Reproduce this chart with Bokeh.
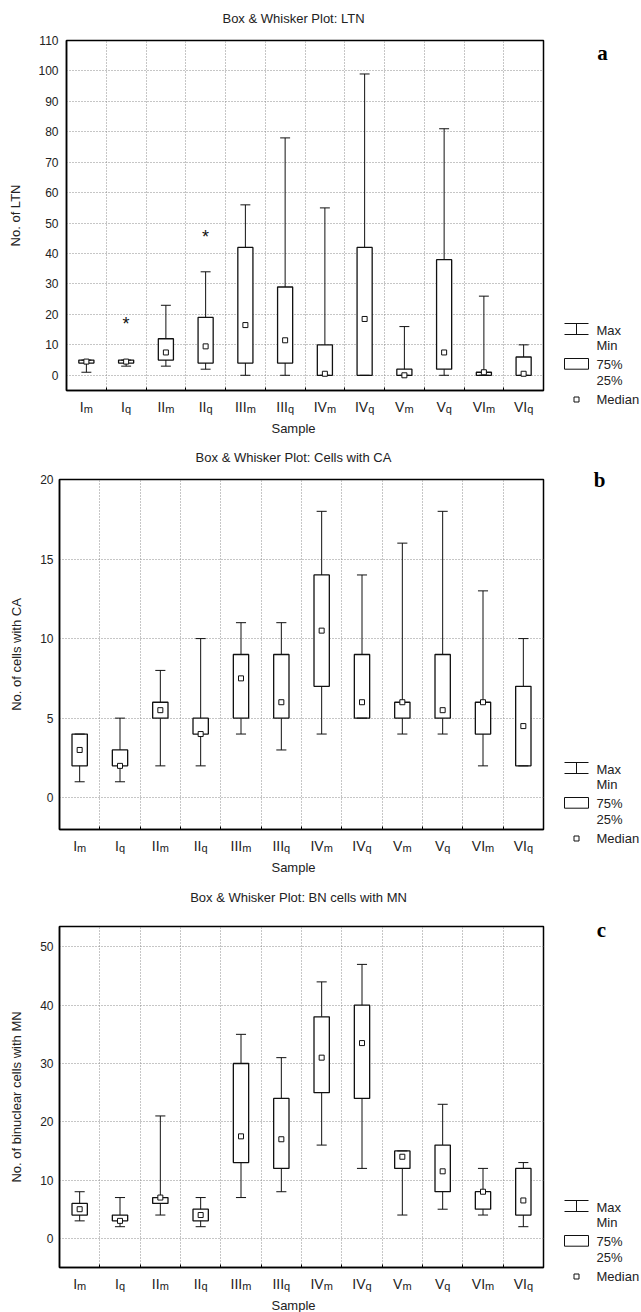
import numpy as np
from bokeh.plotting import figure
from bokeh.models import FixedTicker, Range1d, ColumnDataSource
from bokeh.layouts import column, row
from bokeh.embed import file_html
from bokeh.resources import INLINE
from bokeh.core.properties import value

# ---------------- data ----------------
numerals = ["I", "I", "II", "II", "III", "III", "IV", "IV", "V", "V", "VI", "VI"]
subs = ["m", "q", "m", "q", "m", "q", "m", "q", "m", "q", "m", "q"]

# (a) LTN
ltn_min = [1, 3, 3, 2, 0, 0, 0, 0, 0, 0, 0, 0]
ltn_q1 = [4, 4, 5, 4, 4, 4, 0, 0, 0, 2, 0, 0]
ltn_med = [4.5, 4.5, 7.5, 9.5, 16.5, 11.5, 0.5, 18.5, 0, 7.5, 1, 0.5]
ltn_q3 = [5, 5, 12, 19, 42, 29, 10, 42, 2, 38, 1, 6]
ltn_max = [5, 5, 23, 34, 56, 78, 55, 99, 16, 81, 26, 10]
ltn_out_idx = [1, 3]
ltn_out_val = [17, 45.5]

# (b) Cells with CA
ca_min = [1, 1, 2, 2, 4, 3, 4, 5, 4, 4, 2, 2]
ca_q1 = [2, 2, 5, 4, 5, 5, 7, 5, 5, 5, 4, 2]
ca_med = [3, 2, 5.5, 4, 7.5, 6, 10.5, 6, 6, 5.5, 6, 4.5]
ca_q3 = [4, 3, 6, 5, 9, 9, 14, 9, 6, 9, 6, 7]
ca_max = [4, 5, 8, 10, 11, 11, 18, 14, 16, 18, 13, 10]

# (c) BN cells with MN
mn_min = [3, 2, 4, 2, 7, 8, 16, 12, 4, 5, 4, 2]
mn_q1 = [4, 3, 6, 3, 13, 12, 25, 24, 12, 8, 5, 4]
mn_med = [5, 3, 7, 4, 17.5, 17, 31, 33.5, 14, 11.5, 8, 6.5]
mn_q3 = [6, 4, 7, 5, 30, 24, 38, 40, 15, 16, 8, 12]
mn_max = [8, 7, 21, 7, 35, 31, 44, 47, 15, 23, 12, 13]

ticks_a = [0, 10, 20, 30, 40, 50, 60, 70, 80, 90, 100, 110]
ticks_b = [0, 5, 10, 15, 20]
ticks_c = [0, 10, 20, 30, 40, 50]

legend_labels = ["Max", "Min", "75%", "25%", "Median"]

FONT = "Liberation Sans"
SERIF = "Liberation Serif"
TXT = "#222222"
INK = "#111111"
PAGE_W = 641
MAIN_W = 545
B_RIGHT = 2
B_TOP = 12
B_BOT = 6
CHAR_W = {"I": 0.278, "V": 0.667, "m": 0.833, "q": 0.556}


def canvas(width, height, x0, x1, ytop, ybot, x_range=None):
    """A figure without axes whose frame is the whole canvas (page-like coordinates)."""
    f = figure(width=width, height=height,
               x_range=x_range if x_range is not None else Range1d(x0, x1),
               y_range=Range1d(ybot, ytop), x_axis_type=None, y_axis_type=None,
               output_backend="svg", toolbar_location=None, min_border=0)
    f.outline_line_color = None
    f.background_fill_color = "white"
    f.border_fill_color = "white"
    return f


def panel(top, title, title_x, title_y, ylabel, letter, letter_xy,
          mins, q1, med, q3, maxs, yr, yticks,
          frame_top, frame_h, b_left, tick_standoff, ylab_standoff, strip_h,
          out_idx=None, out_val=None):
    n = len(numerals)
    title_h = frame_top - B_TOP - top
    main_h = B_TOP + frame_h + B_BOT
    frame_bot = frame_top + frame_h
    row_top = top + title_h

    # ---- title strip (page coordinates) ----
    ts = canvas(PAGE_W, title_h, 0, PAGE_W, top, top + title_h)
    ts.text(x=[title_x], y=[title_y], text=[title], text_align="center",
            text_baseline="middle", text_font=value(FONT), text_font_size="13px",
            text_color=TXT)

    # ---- main plot ----
    xr = Range1d(0, n)
    p = figure(width=MAIN_W, height=main_h, x_range=xr, y_range=Range1d(*yr),
               output_backend="svg", toolbar_location=None,
               min_border_left=b_left, min_border_right=B_RIGHT,
               min_border_top=B_TOP, min_border_bottom=B_BOT)
    p.background_fill_color = "white"
    p.border_fill_color = "white"
    p.outline_line_color = "black"
    p.outline_line_width = 1.5

    p.xgrid.ticker = FixedTicker(ticks=list(range(1, n)))
    p.ygrid.ticker = FixedTicker(ticks=yticks)
    for g in (p.xgrid, p.ygrid):
        g.grid_line_color = "#8c8c8c"
        g.grid_line_dash = "1 2"
        g.grid_line_width = 1

    p.xaxis.ticker = FixedTicker(ticks=list(range(1, n)))
    p.xaxis.major_label_overrides = {i: "" for i in range(1, n)}
    p.xaxis.major_label_text_font_size = "0px"
    p.xaxis.major_label_standoff = 0
    p.xaxis.major_tick_in = 3
    p.xaxis.major_tick_out = 0
    p.xaxis.major_tick_line_color = "black"
    p.xaxis.minor_tick_line_color = None
    p.xaxis.axis_line_color = "black"
    p.xaxis.axis_line_width = 1.5

    p.yaxis.ticker = FixedTicker(ticks=yticks)
    p.yaxis.major_tick_in = 0
    p.yaxis.major_tick_out = 0
    p.yaxis.minor_tick_line_color = None
    p.yaxis.axis_line_color = "black"
    p.yaxis.axis_line_width = 1.5
    p.yaxis.major_label_standoff = tick_standoff
    p.yaxis.major_label_text_font = FONT
    p.yaxis.major_label_text_font_size = "12px"
    p.yaxis.major_label_text_color = TXT
    p.yaxis.axis_label = ylabel
    p.yaxis.axis_label_text_font = FONT
    p.yaxis.axis_label_text_font_size = "13px"
    p.yaxis.axis_label_text_font_style = "normal"
    p.yaxis.axis_label_text_color = TXT
    p.yaxis.axis_label_standoff = ylab_standoff

    x = np.arange(n) + 0.5
    bw = 0.38
    cw = 0.25
    p.segment(x, mins, x, maxs, line_color=INK, line_width=1)
    p.vbar(x=x, width=bw, bottom=q1, top=q3, fill_color="white",
           line_color=INK, line_width=1.3)
    p.segment(x - cw / 2, mins, x + cw / 2, mins, line_color=INK, line_width=1)
    p.segment(x - cw / 2, maxs, x + cw / 2, maxs, line_color=INK, line_width=1)
    p.scatter(x, med, marker="square", size=5, fill_color="white",
              line_color=INK, line_width=1)
    if out_idx:
        p.text(x=[i + 0.5 for i in out_idx], y=out_val, text=["*"] * len(out_idx),
               text_align="center", text_baseline="middle",
               text_font=value(FONT), text_font_size="18px", text_color=INK)

    # ---- x label strip: shares the x scale; y = pixels below the frame bottom ----
    xs = canvas(MAIN_W, strip_h, None, None, B_BOT, B_BOT + strip_h, x_range=xr)
    xs.min_border_left = b_left
    xs.min_border_right = B_RIGHT
    wm = [sum(CHAR_W[c] for c in s) * 14 for s in numerals]
    ws = [sum(CHAR_W[c] for c in s) * 11 for s in subs]
    off = [(a - b) / 2 for a, b in zip(wm, ws)]
    src = ColumnDataSource(dict(x=x, main=numerals, sub=subs, off=off,
                                ym=[16.5] * n, ys=[18] * n))
    xs.text(x="x", y="ym", text="main", x_offset="off", source=src,
            text_align="right", text_baseline="alphabetic",
            text_font=value(FONT), text_font_size="14px", text_color=TXT)
    xs.text(x="x", y="ys", text="sub", x_offset="off", source=src,
            text_align="left", text_baseline="alphabetic",
            text_font=value(FONT), text_font_size="11px", text_color=TXT)
    # "Sample" centred at page x 293 -> data units of the shared scale
    fw = MAIN_W - b_left - B_RIGHT
    xs.text(x=[(293 - b_left) * n / fw], y=[38], text=["Sample"], text_align="center",
            text_baseline="middle", text_font=value(FONT), text_font_size="13px",
            text_color=TXT)

    # ---- legend column (page coordinates) ----
    lg_h = main_h + strip_h
    lg = canvas(PAGE_W - MAIN_W, lg_h, MAIN_W, PAGE_W, row_top, row_top + lg_h)
    fb = frame_bot
    lx, tx = 576, 596
    lg.segment(x0=[lx], y0=[fb - 67], x1=[lx], y1=[fb - 56], line_color=INK, line_width=1)
    lg.segment(x0=[lx - 12, lx - 12], y0=[fb - 67, fb - 56], x1=[lx + 12, lx + 12],
               y1=[fb - 67, fb - 56], line_color=INK, line_width=1)
    lg.quad(left=[lx - 12], right=[lx + 12], top=[fb - 32], bottom=[fb - 21.3],
            fill_color="white", line_color=INK, line_width=1)
    lg.scatter(x=[lx], y=[fb + 9], marker="square", size=5, fill_color="white",
               line_color=INK, line_width=1)
    lg.text(x=[tx] * 5, y=[fb - 60, fb - 45.5, fb - 26.5, fb - 10, fb + 9],
            text=legend_labels, text_align="left", text_baseline="middle",
            text_font=value(FONT), text_font_size="13px", text_color=TXT)
    lg.text(x=[letter_xy[0]], y=[letter_xy[1]], text=[letter], text_align="center",
            text_baseline="middle", text_font=value(SERIF), text_font_size="21px",
            text_font_style="bold", text_color="black")

    return column(ts, row(column(p, xs, spacing=0), lg, spacing=0), spacing=0)


pa = panel(0, "Box & Whisker Plot: LTN", 293, 18, "No. of LTN", "a", (602, 52),
           ltn_min, ltn_q1, ltn_med, ltn_q3, ltn_max, (-5, 110), ticks_a,
           frame_top=40, frame_h=350, b_left=66, tick_standoff=8, ylab_standoff=12,
           strip_h=44, out_idx=ltn_out_idx, out_val=ltn_out_val)
pb = panel(440, "Box & Whisker Plot: Cells with CA", 293, 457, "No. of cells with CA", "b",
           (599, 479),
           ca_min, ca_q1, ca_med, ca_q3, ca_max, (-2, 20), ticks_b,
           frame_top=479, frame_h=350, b_left=59, tick_standoff=6, ylab_standoff=13,
           strip_h=45)
pc = panel(880, "Box & Whisker Plot: BN cells with MN", 298, 897,
           "No. of binuclear cells with MN", "c", (601, 929),
           mn_min, mn_q1, mn_med, mn_q3, mn_max, (-5, 53.5), ticks_c,
           frame_top=926, frame_h=341, b_left=59, tick_standoff=6, ylab_standoff=13,
           strip_h=39)

layout = column(pa, pb, pc, spacing=0)
open("out.html", "w").write(file_html(layout, INLINE))
